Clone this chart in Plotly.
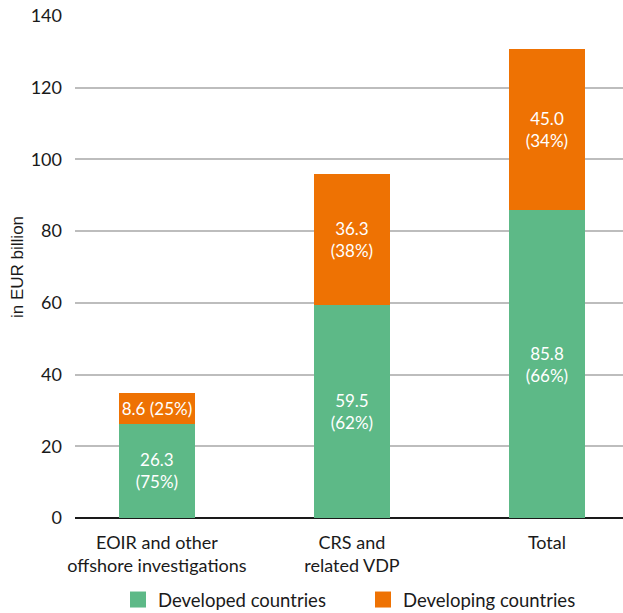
import plotly.graph_objects as go

categories = ["EOIR and other<br>offshore investigations", "CRS and<br>related VDP", "Total"]
developed = [26.3, 59.5, 85.8]
developing = [8.6, 36.3, 45.0]
developed_labels = ["26.3<br>(75%)", "59.5<br>(62%)", "85.8<br>(66%)"]
developing_labels = ["8.6 (25%)", "36.3<br>(38%)", "45.0<br>(34%)"]
y_ticks = [0, 20, 40, 60, 80, 100, 120, 140]

GREEN = "#5DB987"
ORANGE = "#EE7203"
FONT = "Lato"

xs = [0, 1, 2]
fig = go.Figure()
fig.add_trace(go.Bar(x=xs, y=developed, name="Developed countries", marker=dict(color=GREEN, line=dict(width=0)),
                     text=developed_labels, textposition="inside", insidetextanchor="middle",
                     textfont=dict(color="white", size=17, family=FONT), width=0.39, showlegend=False,
                     textangle=0, constraintext="none"))
fig.add_trace(go.Bar(x=xs, y=developing, name="Developing countries", marker=dict(color=ORANGE, line=dict(width=0)),
                     text=developing_labels, textposition="inside", insidetextanchor="middle",
                     textfont=dict(color="white", size=17, family=FONT), width=0.39, showlegend=False,
                     textangle=0, constraintext="none"))
for nm, col in [("Developed countries", GREEN), ("Developing countries", ORANGE)]:
    fig.add_trace(go.Scatter(x=[None], y=[None], mode="markers", name=nm,
                             marker=dict(symbol="square", size=18, color=col)))

fig.update_layout(
    barmode="stack",
    width=623, height=613,
    margin=dict(l=75, r=0, t=16, b=95),
    paper_bgcolor="white", plot_bgcolor="white",
    font=dict(family=FONT, size=18, color="#1a1a1a"),
    xaxis=dict(range=[-0.42, 2.39], tickmode="array", tickvals=xs, ticktext=categories,
               showgrid=False, zeroline=False, showline=False, ticks="", automargin=False,
               ticklabelstandoff=12, tickfont=dict(size=18, family=FONT)),
    yaxis=dict(range=[0, 140], tickvals=y_ticks, showgrid=True, gridcolor="#BDBDBD", gridwidth=1.5,
               zeroline=True, zerolinecolor="#1a1a1a", zerolinewidth=1.5, showline=False, automargin=False,
               ticks="", ticklabelstandoff=12, tickfont=dict(size=18, family=FONT)),
    legend=dict(orientation="h", xref="container", yref="container",
                x=118 / 623, xanchor="left", y=13 / 613, yanchor="middle", traceorder="normal",
                font=dict(size=18.5, family=FONT), itemsizing="trace", tracegroupgap=0,
                bgcolor="rgba(0,0,0,0)",
                itemwidth=30, entrywidth=200, entrywidthmode="pixels"),
    annotations=[dict(text="in EUR billion", textangle=-90, xref="paper", yref="paper",
                      x=(17 - 75) / 548, y=0.5, xanchor="center", yanchor="middle", showarrow=False,
                      font=dict(family="Liberation Sans", size=17, color="#1a1a1a"))],
)
fig.write_html("out.html")
